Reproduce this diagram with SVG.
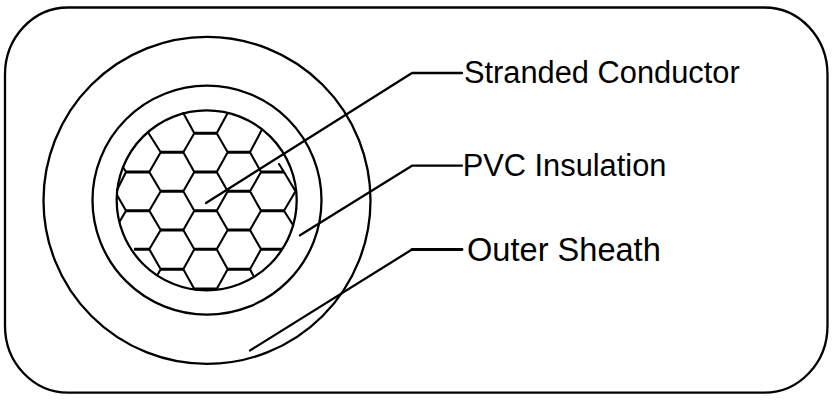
<svg xmlns="http://www.w3.org/2000/svg" width="835" height="400" viewBox="0 0 835 400">
<style>
.s{fill:none;stroke:#000;stroke-width:2.3;stroke-linecap:round;stroke-linejoin:round}
.h{fill:none;stroke:#000;stroke-width:2.9}
.d{fill:none;stroke:#000;stroke-width:2.1;stroke-linecap:round;stroke-linejoin:round}
text{font-family:"Liberation Sans",Arial,sans-serif;font-size:30.8px;fill:#000}
</style>
<rect width="835" height="400" fill="#fff"/>
<g id="cable-jacket"><rect class="s" x="5" y="7.5" width="822.5" height="385.2" rx="63" ry="67"/></g>
<g id="outer-sheath"><circle class="s" cx="207" cy="200.4" r="163.5"/></g>
<g id="insulation"><circle class="s" cx="207" cy="200.2" r="114.5"/></g>
<g id="conductor"><circle class="s" cx="206.7" cy="200.3" r="90"/>
<path class="h" d="M194.3 133.3H216.7M160.7 152.3H183.3M227.7 152.3H250M126 172H149.3M194.3 172H216.7M261 172H284M160.7 191.3H183.3M227.7 191.3H250M126 210.7H149.3M194.3 210.7H216.7M261 210.7H284M160.7 230H183.3M227.7 230H250M134 249.3H149.3M194.3 249.3H216.7M261 249.3H282M160.7 269.3H183.3M227.7 269.3H250M194.3 289H216.7"/>
<path class="d" d="M183.3 113L194.3 133.3L183.3 152.3M227.7 113L216.7 133.3L227.7 152.3M148.3 132.7L160.7 152.3L149.3 172L160.7 191.3L149.3 210.7L160.7 230L149.3 249.3L160.7 269.3L158 274M261.7 130L250 152.3L261 172L250 191.3L261 210.7L250 230L261 249.3L250 269.3L253 275M183.3 152.3L194.3 172L183.3 191.3L194.3 210.7L183.3 230L194.3 249.3L183.3 269.3L194.3 289M227.7 152.3L216.7 172L227.7 191.3L216.7 210.7L227.7 230L216.7 249.3L227.7 269.3L216.7 289M126 172L123 167M126 172L117 190M117 195L126 210.7L120 221M284 172L295.5 191.3L284 210.7L293 225M284 172L279 164"/></g>
<g id="connectors"><path class="s" d="M206 203L412 73H462"/><path class="s" d="M300 235.3L412 165.7H462"/><path class="s" style="stroke-width:2.8" d="M412 249.5H462"/><path class="s" d="M250 350.5L412 249.5"/></g>
<g id="label-conductor"><text x="464" y="82.5">Stranded Conductor</text></g>
<g id="label-insulation"><text x="462.7" y="175.5">PVC Insulation</text></g>
<g id="label-sheath"><text x="467" y="261" style="font-size:32.6px">Outer Sheath</text></g>
</svg>
